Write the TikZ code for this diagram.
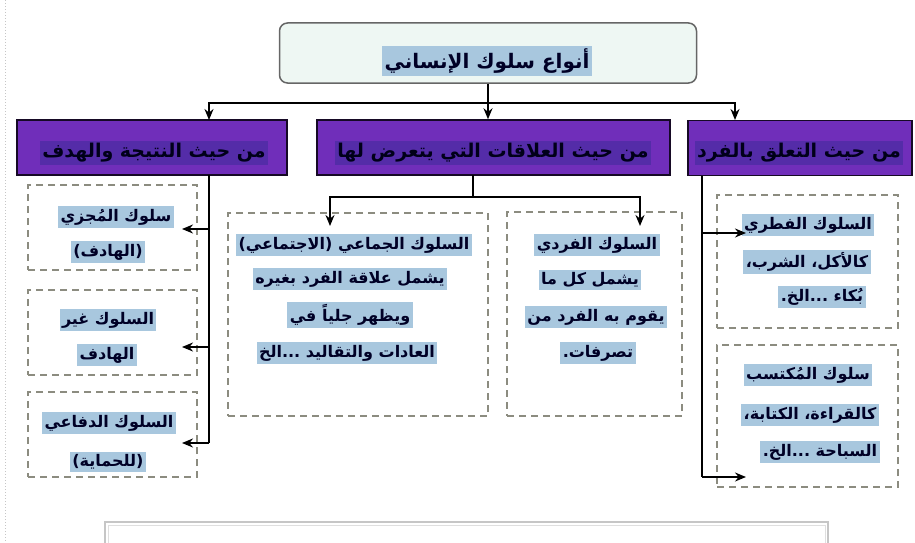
\documentclass[tikz,border=0pt]{standalone}
\usepackage{fontspec}
\usetikzlibrary{arrows.meta}
\TeXXeTstate=1
\newfontfamily\arabicfont[Script=Arabic]{DejaVu Sans}
\definecolor{hlblue}{RGB}{168,199,222}
\definecolor{purp}{RGB}{112,46,186}
\definecolor{purptxt}{RGB}{84,44,168}
\definecolor{titlefill}{RGB}{238,247,243}
\definecolor{dashgray}{RGB}{140,140,128}
\newcommand{\ar}[1]{\beginR #1\endR}
\tikzset{
  titlebox/.style={draw=gray!80!black, line width=1.5pt, rounded corners=8pt, fill=titlefill},
  purpbox/.style={draw=black!80!purp, line width=1.5pt, fill=purp},
  dbox/.style={draw=dashgray, line width=1.8pt, dash pattern=on 7pt off 5pt},
  hltxt/.style={fill=hlblue, inner xsep=2.5pt, inner ysep=2.5pt, text=black!85!blue,
    font=\arabicfont\bfseries\fontsize{16}{18}\selectfont},
  ptxt/.style={fill=purptxt, inner xsep=2pt, inner ysep=2pt, text=black!90!blue,
    font=\arabicfont\bfseries\fontsize{19}{21}\selectfont},
  conn/.style={line width=1.7pt, black},
  arr/.style={line width=1.7pt, black, -{Stealth[length=11pt,width=9pt]}}
}
\begin{document}
\begin{tikzpicture}[x=1pt,y=-1pt]
\useasboundingbox (0,0) rectangle (915,543);
% outer dotted edge and bottom frame
\draw[gray!45, dotted, line width=1pt] (5,0) -- (5,543);
\draw[gray!45, line width=1.2pt] (105,545) -- (105,522) -- (828,522) -- (828,545);
\draw[gray!25, line width=1pt] (108,545) -- (108,525) -- (825,525) -- (825,545);

% title
\node[titlebox, minimum width=417pt, minimum height=60pt] (title) at (488,53) {};
\node[hltxt, font=\arabicfont\bfseries\fontsize{20}{22}\selectfont] (titletxt) at (487,61) {\ar{أنواع سلوك الإنساني}};

% purple boxes
\node[purpbox, minimum width=270pt, minimum height=55pt] (pl) at (152,147.5) {};
\node[purpbox, minimum width=353pt, minimum height=55pt] (pm) at (493.5,147.5) {};
\node[purpbox, minimum width=224pt, minimum height=55pt] (pr) at (800,148) {};
\node[ptxt] (pltxt) at (154,153) {\ar{من حيث النتيجة والهدف}};
\node[ptxt] (pmtxt) at (493,153) {\ar{من حيث العلاقات التي يتعرض لها}};
\node[ptxt] (prtxt) at (799,153) {\ar{من حيث التعلق بالفرد}};

% dashed boxes
\node[dbox, minimum width=169pt, minimum height=85pt] (l1) at (112.5,227.5) {};
\node[dbox, minimum width=169pt, minimum height=85pt] (l2) at (112.5,332.5) {};
\node[dbox, minimum width=169pt, minimum height=85pt] (l3) at (112.5,434.5) {};
\node[dbox, minimum width=260pt, minimum height=203pt] (ml) at (358,314.5) {};
\node[dbox, minimum width=175pt, minimum height=204pt] (mr) at (594.5,314) {};
\node[dbox, minimum width=181pt, minimum height=133pt] (r1) at (807.5,261.5) {};
\node[dbox, minimum width=181pt, minimum height=142pt] (r2) at (807.5,416) {};

% texts left
\node[hltxt] (l1a) at (116,217) {\ar{سلوك المُجزي}};
\node[hltxt] (l1b) at (108,252) {\ar{(الهادف)}};
\node[hltxt] (l2a) at (108,320) {\ar{السلوك غير}};
\node[hltxt] (l2b) at (107,355) {\ar{الهادف}};
\node[hltxt] (l3a) at (109,423) {\ar{السلوك الدفاعي}};
\node[hltxt] (l3b) at (108,462) {\ar{(للحماية)}};
% texts middle
\node[hltxt] (mla) at (354,245) {\ar{السلوك الجماعي (الاجتماعي)}};
\node[hltxt] (mlb) at (350,279) {\ar{يشمل علاقة الفرد بغيره}};
\node[hltxt] (mlc) at (350,315) {\ar{ويظهر جلياً في}};
\node[hltxt] (mld) at (347,353) {\ar{العادات والتقاليد ...الخ}};
\node[hltxt] (mra) at (597,245) {\ar{السلوك الفردي}};
\node[hltxt] (mrb) at (590,280) {\ar{يشمل كل ما}};
\node[hltxt] (mrc) at (596,317) {\ar{يقوم به الفرد من}};
\node[hltxt] (mrd) at (598,353) {\ar{تصرفات.}};
% texts right
\node[hltxt] (r1a) at (808,225) {\ar{السلوك الفطري}};
\node[hltxt] (r1b) at (807,262) {\ar{كالأكل، الشرب،}};
\node[hltxt] (r1c) at (822,297) {\ar{بُكاء ...الخ.}};
\node[hltxt] (r2a) at (808,375) {\ar{سلوك المُكتسب}};
\node[hltxt] (r2b) at (810,415) {\ar{كالقراءة، الكتابة،}};
\node[hltxt] (r2c) at (820,452) {\ar{السباحة ...الخ.}};

% connectors from title
\coordinate (j) at (488,103);
\coordinate (plin) at (209,120);
\coordinate (prin) at (735,120);
\draw[conn] (title.south) -- (j);
\draw[arr] (j) -| (plin);
\draw[arr] (j) -| (prin);
\draw[arr] (j) -- (j |- pm.north);

% left branch
\coordinate (lbtop) at (209,175);
\coordinate (lb1) at (209,229);
\coordinate (lb2) at (209,347);
\coordinate (lb3) at (209,443);
\coordinate (lt1) at (182,229);
\coordinate (lt2) at (182,347);
\coordinate (lt3) at (182,443);
\draw[conn] (lbtop) -- (lb3);
\draw[arr] (lb1) -- (lt1);
\draw[arr] (lb2) -- (lt2);
\draw[arr] (lb3) -- (lt3);

% middle branch
\coordinate (mbtop) at (473,175);
\coordinate (mbj) at (473,197);
\coordinate (mlin) at (330,226);
\coordinate (mrin) at (640,226);
\draw[conn] (mbtop) -- (mbj);
\draw[arr] (mbj) -| (mlin);
\draw[arr] (mbj) -| (mrin);

% right branch
\coordinate (rbtop) at (702,176);
\coordinate (rb1) at (702,233);
\coordinate (rb2) at (702,477);
\coordinate (rt1) at (746,233);
\coordinate (rt2) at (746,477);
\draw[conn] (rbtop) -- (rb2);
\draw[arr] (rb1) -- (rt1);
\draw[arr] (rb2) -- (rt2);
\end{tikzpicture}
\end{document}
